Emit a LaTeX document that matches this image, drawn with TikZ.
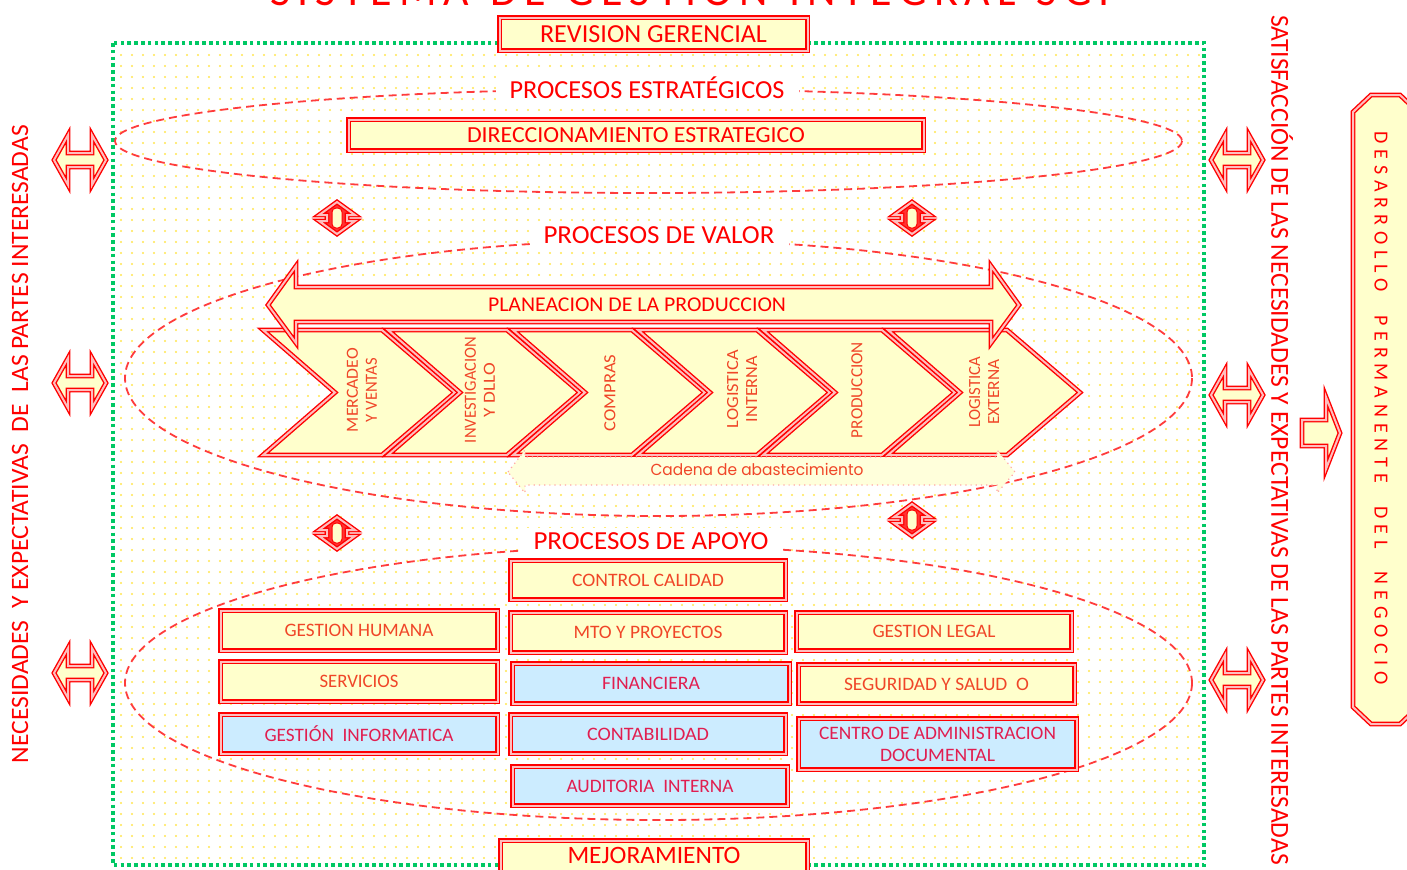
\documentclass[tikz,border=0pt]{standalone}
\usepackage{fontspec}
\setmainfont{Carlito}
\newfontfamily\geo{Poppins}
\usetikzlibrary{patterns.meta}
\definecolor{by}{RGB}{255,255,204}
\definecolor{bb}{RGB}{204,236,255}
\definecolor{dpink}{RGB}{255,190,190}
\definecolor{otxt}{RGB}{240,70,40}
\definecolor{ctxt}{RGB}{225,30,80}
\definecolor{grn}{RGB}{0,200,100}
\definecolor{dotc}{RGB}{255,230,80}
\definecolor{edash}{RGB}{255,60,60}
\newsavebox\fitbox
\newcommand\fx[2]{\sbox\fitbox{#2}\pgfmathsetmacro\fitr{(#1/2)/\the\wd\fitbox}\scalebox{\fitr}[1]{\usebox\fitbox}}
\newcommand\bx[7]{%
 \pgfmathsetmacro\BxW{(#5-#3-5)/2}%
 \pgfmathsetmacro\BxH{(#6-#4-5)/2}%
 \node[#1, minimum width=\BxW pt, minimum height=\BxH pt] (#2) at ({(#3+#5)/2},{(#4+#6)/2}) {#7};}
\newcommand\harrow[2]{\draw[barrow, shift={(#1,#2)}] (-26,0) -- (-12,-25) -- (-12,-7) -- (12,-7) -- (12,-25) -- (26,0) -- (12,25) -- (12,7) -- (-12,7) -- (-12,25) -- cycle;}
\newcommand\darrow[2]{\draw[dbl, fill=red!80, shift={(#1,#2)}] (0,-16) -- (18,-3) -- (10,-3) -- (10,3) -- (18,3) -- (0,16) -- (-18,3) -- (-10,3) -- (-10,-3) -- (-18,-3) -- cycle;
 \draw[draw=red, fill=by, line width=0.5pt, rounded corners=2pt, shift={(#1,#2)}] (-5,-10) rectangle (5,10);}
\tikzset{
 dbl/.style={draw=red, double=dpink, line width=0.7pt, double distance=1pt, line join=miter},
 ybox/.style={dbl, fill=by, text=otxt, font=\fontsize{9.5}{11}\selectfont, inner sep=0pt, align=center},
 bbox/.style={dbl, fill=bb, text=ctxt, font=\fontsize{9.5}{11}\selectfont, inner sep=0pt, align=center},
 hbox/.style={dbl, fill=by, text=red, font=\fontsize{13}{15}\selectfont, inner sep=0pt},
 hlabel/.style={fill=white, text=red, font=\fontsize{13}{15}\selectfont, inner xsep=7pt, inner ysep=2pt},
 procell/.style={draw=edash, line width=0.9pt, dash pattern=on 4pt off 2.5pt},
 chev/.style={dbl, fill=by},
 chevtxt/.style={rotate=90, text=otxt, align=center, font=\fontsize{8.5}{9.5}\selectfont, inner sep=0pt},
 barrow/.style={dbl, fill=by},
 sidetxt/.style={text=red, inner sep=0pt},
}
\begin{document}
\begin{tikzpicture}[x=0.5pt, y=-0.5pt]
\useasboundingbox (0,0) rectangle (1407,869);
\clip (0,0) rectangle (1407,869);
\fill[white] (0,0) rectangle (1407,869);
% background dots and frame
\fill[pattern={Dots[distance=5.5pt, radius=0.55pt]}, pattern color=dotc] (115,45) rectangle (1202,863);
\draw[draw=grn, line width=1.8pt, dash pattern=on 1.8pt off 1.6pt] (113,43) rectangle (1204,865);
% title (cut off at the top edge, as in the source)
\node[text=red, anchor=base, inner sep=0pt, font=\fontsize{22}{22}\selectfont] (title) at (690,5) {\makebox[420pt][s]{S I S T E M A\ \ \ D E\ \ \ G E S T I O N\ \ \ I N T E G R A L\ \ \ S G I}};
% ellipses
\draw[procell] (648.5,141) ellipse [x radius=533.5, y radius=52];
\draw[procell] (658.5,378) ellipse [x radius=533.5, y radius=138];
\draw[procell] (658.5,683) ellipse [x radius=533.5, y radius=137];
\node[hlabel] (pe) at (647,88) {\fx{275}{PROCESOS ESTRATÉGICOS}};
\node[hlabel] (pv) at (659,235) {\fx{231}{PROCESOS DE VALOR}};
\node[hlabel] (pa) at (651,541) {\fx{235}{PROCESOS DE APOYO}};
% top and bottom boxes
\bx{hbox}{rev}{497}{15}{810}{53}{\fx{227}{REVISION GERENCIAL}}
\bx{hbox, font=\fontsize{11.5}{13}\selectfont}{dir}{346}{117}{926}{153}{\fx{338}{DIRECCIONAMIENTO ESTRATEGICO}}
\bx{hbox}{mej}{498}{838}{810}{882}{}
\node[text=red, inner sep=0pt, font=\fontsize{12.5}{14}\selectfont] (mejt) at (654,855) {\fx{173}{MEJORAMIENTO}};
% chevrons
\foreach \L in {263,388,513,638,763,888} {
 \draw[chev] (\L,330) -- ({\L+119},330) -- ({\L+192},392.5) -- ({\L+119},455) -- (\L,455) -- ({\L+72},392.5) -- cycle;
}
\node[chevtxt] (c1) at (362,390) {\fx{84}{MERCADEO}\\\fx{64}{Y VENTAS}};
\node[chevtxt] (c2) at (480,390) {\fx{106}{INVESTIGACION}\\\fx{54}{Y DLLO}};
\node[chevtxt] (c3) at (610,393) {\fx{77}{COMPRAS}};
\node[chevtxt] (c4) at (742,389) {\fx{78}{LOGISTICA}\\\fx{66}{INTERNA}};
\node[chevtxt] (c5) at (857,390) {\fx{96}{PRODUCCION}};
\node[chevtxt] (c6) at (984,392) {\fx{71}{LOGISTICA}\\\fx{65}{EXTERNA}};
% planeacion arrow
\draw[barrow] (268,305) -- (296,266) -- (296,287) -- (991,287) -- (991,266) -- (1019,305) -- (991,343) -- (991,322) -- (296,322) -- (296,343) -- cycle;
\node[text=red, inner sep=0pt, font=\fontsize{10.5}{12}\selectfont] (plan) at (637,305) {\fx{298}{PLANEACION DE LA PRODUCCION}};
% cadena arrow
\draw[draw=red!35, fill=by!70, line width=0.6pt, dotted] (508,472) -- (525,450) -- (525,457) -- (997,457) -- (997,450) -- (1015,472) -- (997,493) -- (997,485) -- (525,485) -- (525,493) -- cycle;
\node[text=otxt, inner sep=0pt, font=\geo\fontsize{8}{10}\selectfont] (cad) at (757,469) {\fx{213}{Cadena de abastecimiento}};
% apoyo boxes
\bx{ybox}{cc}{508}{558}{788}{602}{\fx{152}{CONTROL CALIDAD}}
\bx{ybox}{gh}{218}{608}{500}{653}{\fx{149}{GESTION HUMANA}}
\bx{ybox}{mto}{508}{610}{788}{655}{\fx{149}{MTO Y PROYECTOS}}
\bx{ybox}{gl}{794}{610}{1074}{653}{\fx{123}{GESTION LEGAL}}
\bx{ybox}{serv}{218}{659}{500}{704}{\fx{79}{SERVICIOS}}
\bx{bbox}{fin}{510}{661}{792}{706}{\fx{98}{FINANCIERA}}
\bx{ybox}{seg}{796}{662}{1077}{706}{\fx{185}{SEGURIDAD Y SALUD\ \ O}}
\bx{bbox}{ginf}{218}{712}{500}{756}{\fx{189}{GESTIÓN\ \ INFORMATICA}}
\bx{bbox}{cont}{508}{712}{788}{756}{\fx{122}{CONTABILIDAD}}
\bx{bbox}{cadm}{796}{716}{1079}{772}{\fx{237}{CENTRO DE ADMINISTRACION}\\\fx{115}{DOCUMENTAL}}
\bx{bbox}{aud}{510}{764}{790}{808}{\fx{167}{AUDITORIA\ \ INTERNA}}
% small diamond arrows
\darrow{337}{218}
\darrow{912}{218}
\darrow{337}{533}
\darrow{912}{520}
% side double arrows
\harrow{80}{160}
\harrow{80}{383}
\harrow{80}{673}
\harrow{1237}{160}
\harrow{1237}{395}
\harrow{1237}{680}
% side texts
\node[sidetxt, rotate=90, font=\fontsize{12.5}{14}\selectfont] (lt) at (20,444) {\fx{638}{NECESIDADES\ \ Y EXPECTATIVAS\ \ DE\ \ LAS PARTES INTERESADAS}};
\node[sidetxt, rotate=-90, font=\fontsize{13}{15}\selectfont] (rt) at (1282,440) {\fx{850}{SATISFACCIÓN DE LAS NECESIDADES Y EXPECTATIVAS DE LAS PARTES INTERESADAS}};
% right arrow
\draw[barrow] (1302,420) -- (1326,420) -- (1326,397) -- (1340,433) -- (1326,469) -- (1326,446) -- (1302,446) -- cycle;
% desarrollo box
\draw[barrow] (1353,112) -- (1371,95) -- (1400,95) -- (1418,112) -- (1418,707) -- (1400,724) -- (1371,724) -- (1353,707) -- cycle;
\node[sidetxt, rotate=-90, font=\fontsize{10}{12}\selectfont] (des) at (1381,408) {\makebox[276.5pt][s]{D E S A R R O L L O\ \ \ \ P E R M A N E N T E\ \ \ \ D E L\ \ \ \ N E G O C I O}};
\end{tikzpicture}
\end{document}
